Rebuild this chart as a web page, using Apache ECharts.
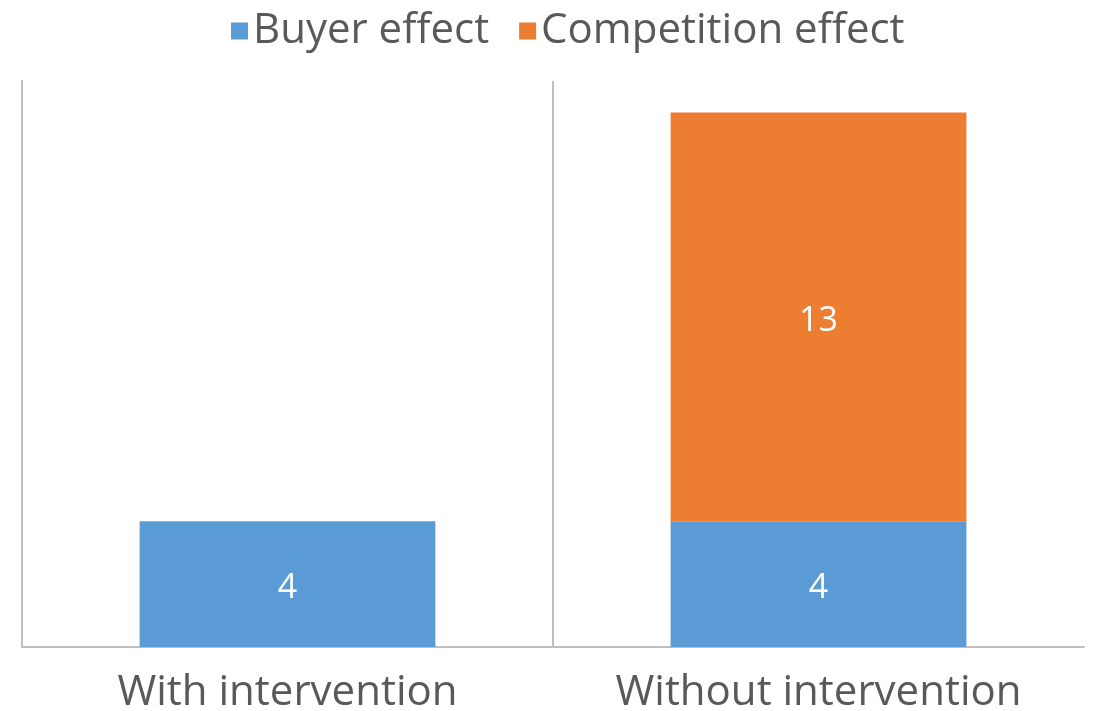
<!DOCTYPE html>
<html><head><meta charset="utf-8">
<script src="https://cdn.jsdelivr.net/npm/echarts@6/dist/echarts.min.js"></script>
<style>html,body{margin:0;padding:0;background:#fff}#c{width:1094px;height:711px}</style>
</head><body><div id="c"></div>
<script>
const categories = ['With intervention', 'Without intervention'];
const buyerEffect = [4, 4];
const competitionEffect = [null, 13];
const seriesNames = ['Buyer effect', 'Competition effect'];

const FONT = '"Open Sans", "Noto Sans", sans-serif';
const chart = echarts.init(document.getElementById('c'), null, {renderer: 'canvas'});
const labelStyle = {show: true, position: 'inside', color: '#fff', fontSize: 34, fontFamily: FONT, offset: [0, 4]};
chart.setOption({
  animation: false,
  backgroundColor: '#fff',
  legend: {
    top: 5, left: 226,
    itemWidth: 17, itemHeight: 17, itemGap: 30,
    icon: 'rect',
    textStyle: {fontSize: 42, color: '#595959', fontFamily: FONT},
    data: seriesNames
  },
  grid: {left: 22, right: 10, top: 81, bottom: 64, containLabel: false, outerBoundsMode: 'none'},
  xAxis: {
    type: 'category', data: categories,
    axisLine: {show: true, lineStyle: {color: '#bfbfbf', width: 2}},
    axisTick: {show: false},
    axisLabel: {fontSize: 42, color: '#595959', fontFamily: FONT, margin: 25},
    splitLine: {show: true, showMaxLine: false, lineStyle: {color: '#bfbfbf', width: 2}}
  },
  yAxis: {
    type: 'value', min: 0, max: 18,
    axisLine: {show: true, lineStyle: {color: '#bfbfbf', width: 2}},
    axisTick: {show: false}, axisLabel: {show: false},
    splitLine: {show: false}
  },
  series: [
    {name: seriesNames[0], type: 'bar', stack: 'a', data: buyerEffect, barWidth: '55.7%',
     itemStyle: {color: '#5b9bd5'}, label: labelStyle},
    {name: seriesNames[1], type: 'bar', stack: 'a', data: competitionEffect, barWidth: '55.7%',
     itemStyle: {color: '#ed7d31'}, label: labelStyle}
  ]
});
</script></body></html>
